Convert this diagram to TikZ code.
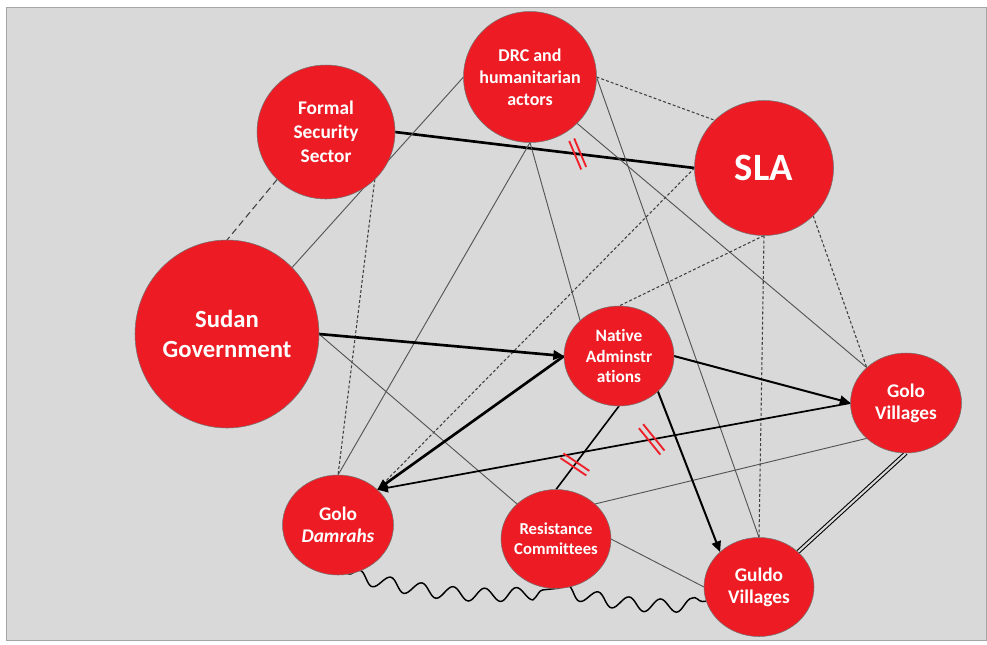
\documentclass[tikz,border=0pt]{standalone}
\usepackage{fontspec}
\setmainfont{Carlito}[Ligatures=NoCommon]
\usetikzlibrary{arrows.meta,calc,shapes.geometric,decorations.pathmorphing}

\definecolor{bggray}{HTML}{D9D9D9}
\definecolor{framegray}{HTML}{A6A6A6}
\definecolor{actorred}{HTML}{ED1C24}
\definecolor{linkgray}{HTML}{555555}
\definecolor{hatchred}{HTML}{F0202A}

\pgfdeclarelayer{canvas}
\pgfdeclarelayer{links}
\pgfsetlayers{canvas,links,main}

\begin{document}
\begin{tikzpicture}[x=0.75pt,y=-0.75pt,
  actor/.style={ellipse, fill=actorred, draw=black!55, line width=0.4pt, inner sep=0pt, outer sep=0pt},
  actortext/.style={text=white, align=center, inner sep=0pt},
  tie/.style={draw=linkgray, line width=0.7pt},
  weak/.style={draw=black!75, line width=0.8pt, dash pattern=on 2.2pt off 1.6pt},
  formal/.style={draw=black!75, line width=0.8pt, dash pattern=on 5pt off 3pt},
  strong/.style={draw=black, line width=2pt},
  flow/.style={draw=black, line width=1.5pt, -{Triangle[length=8pt,width=7pt]}},
  bond/.style={draw=black, line width=0.8pt, double=bggray, double distance=1.6pt},
  wave/.style={draw=black, line width=1.1pt, decorate, decoration={snake, segment length=24pt, amplitude=5pt}},
  hatch/.style={draw=hatchred, line width=1.4pt}
]
\useasboundingbox (0,0) rectangle (987,644);

\begin{pgfonlayer}{canvas}
  \fill[white] (0,0) rectangle (987,644);
  \filldraw[fill=bggray, draw=framegray, line width=0.75pt] (6.5,7) rectangle (986.5,640.5);
\end{pgfonlayer}

% actors
\node[actor, minimum width=103.5pt, minimum height=100.5pt,
  label={[actortext, font=\bfseries\fontsize{14.5}{18}\selectfont]center:Formal\\Security\\Sector}] (fss) at (326,132) {};
\node[actor, minimum width=99.75pt, minimum height=98.25pt,
  label={[actortext, font=\bfseries\fontsize{13.5}{16.5}\selectfont]center:DRC and\\humanitarian\\actors}] (drc) at (530,77) {};
\node[actor, minimum width=104.25pt, minimum height=101.25pt,
  label={[actortext, font=\bfseries\fontsize{29}{32}\selectfont]center:SLA}] (sla) at (764,168) {};
\node[actor, minimum width=138pt, minimum height=141pt,
  label={[actortext, font=\bfseries\fontsize{18.5}{22}\selectfont]center:Sudan\\Government}] (sg) at (227,334) {};
\node[actor, minimum width=82.5pt, minimum height=75pt,
  label={[actortext, font=\bfseries\fontsize{13}{15.5}\selectfont]center:Native\\Adminstr\\ations}] (na) at (619,356) {};
\node[actor, minimum width=83.25pt, minimum height=75pt,
  label={[actortext, font=\bfseries\fontsize{14.5}{16.5}\selectfont]center:Golo\\Villages}] (gv) at (906,403) {};
\node[actor, minimum width=82.5pt, minimum height=74.25pt,
  label={[actortext, font=\bfseries\fontsize{12.5}{15}\selectfont]center:Resistance\\Committees}] (rc) at (556,539) {};
\node[actor, minimum width=82.5pt, minimum height=74.25pt,
  label={[actortext, font=\bfseries\fontsize{14.5}{16.5}\selectfont]center:Guldo\\Villages}] (gul) at (759,587) {};
\node[actor, minimum width=83.25pt, minimum height=75pt,
  label={[actortext, font=\bfseries\fontsize{14.5}{16.5}\selectfont]center:Golo\\\textit{Damrahs}}] (dam) at (338,525) {};

% relations
\begin{pgfonlayer}{links}
  \draw[strong] (fss.east) -- (sla.west);
  \draw[formal] (fss.south west) -- (sg.north);
  \draw[weak] (fss.south east) -- (dam.north);
  \draw[tie] (drc.west) -- (sg.north east);
  \draw[tie] (drc.south) -- (dam.north);
  \draw[tie] (drc.south) -- (na.north west);
  \draw[tie] (drc.east) -- (gul.north);
  \draw[tie] (drc.south east) -- (gv.north west);
  \draw[weak] (drc.east) -- (sla.north west);
  \draw[weak] (sla.west) -- (dam.north east);
  \draw[weak] (sla.south) -- (na.north);
  \draw[weak] (sla.south) -- (gul.north);
  \draw[weak] (sla.south east) -- (gv.north west);
  \draw[tie] (sg.east) -- (rc.north west);
  \draw[tie] (gv.south west) -- (rc.north east);
  \draw[tie] (rc.east) -- (gul.west);
  \draw[flow, line width=2pt] (sg.east) -- (na.west);
  \draw[flow, line width=2pt] (na.west) -- (dam.north east);
  \draw[flow] (na.east) -- (gv.west);
  \draw[flow] (na.south east) -- (gul.north west);
  \draw[flow, line width=1.3pt] (gv.west) -- (dam.north east);
  \draw[draw=black, line width=1.2pt] (na.south) -- (rc.north);
  \draw[bond] (gv.south) -- (gul.north east);
  \draw[wave] (dam.-78) to[bend right=10] (rc.south);
  \draw[wave] (rc.south) to[bend right=10] (gul.195);
\end{pgfonlayer}

% broken-relation marks
\path (fss.east) -- (sla.west) coordinate[pos=0.61] (h1);
\draw[hatch] ($(h1)+(-3.5,-15.5)$) -- ($(h1)+(8.5,13)$)
             ($(h1)+(-8.5,-13)$) -- ($(h1)+(3.5,15.5)$);
\path (gv.west) -- (dam.north east) coordinate[pos=0.42] (h2);
\draw[hatch] ($(h2)+(-8.6,-15.2)$) -- ($(h2)+(12.8,11.2)$)
             ($(h2)+(-12.8,-11.2)$) -- ($(h2)+(8.6,15.2)$);
\path (na.south) -- (rc.north) coordinate[pos=0.70] (h3);
\draw[hatch] ($(h3)+(-11.4,-11)$) -- ($(h3)+(14.4,6.4)$)
             ($(h3)+(-14.4,-6.4)$) -- ($(h3)+(11.4,11)$);
\end{tikzpicture}
\end{document}
